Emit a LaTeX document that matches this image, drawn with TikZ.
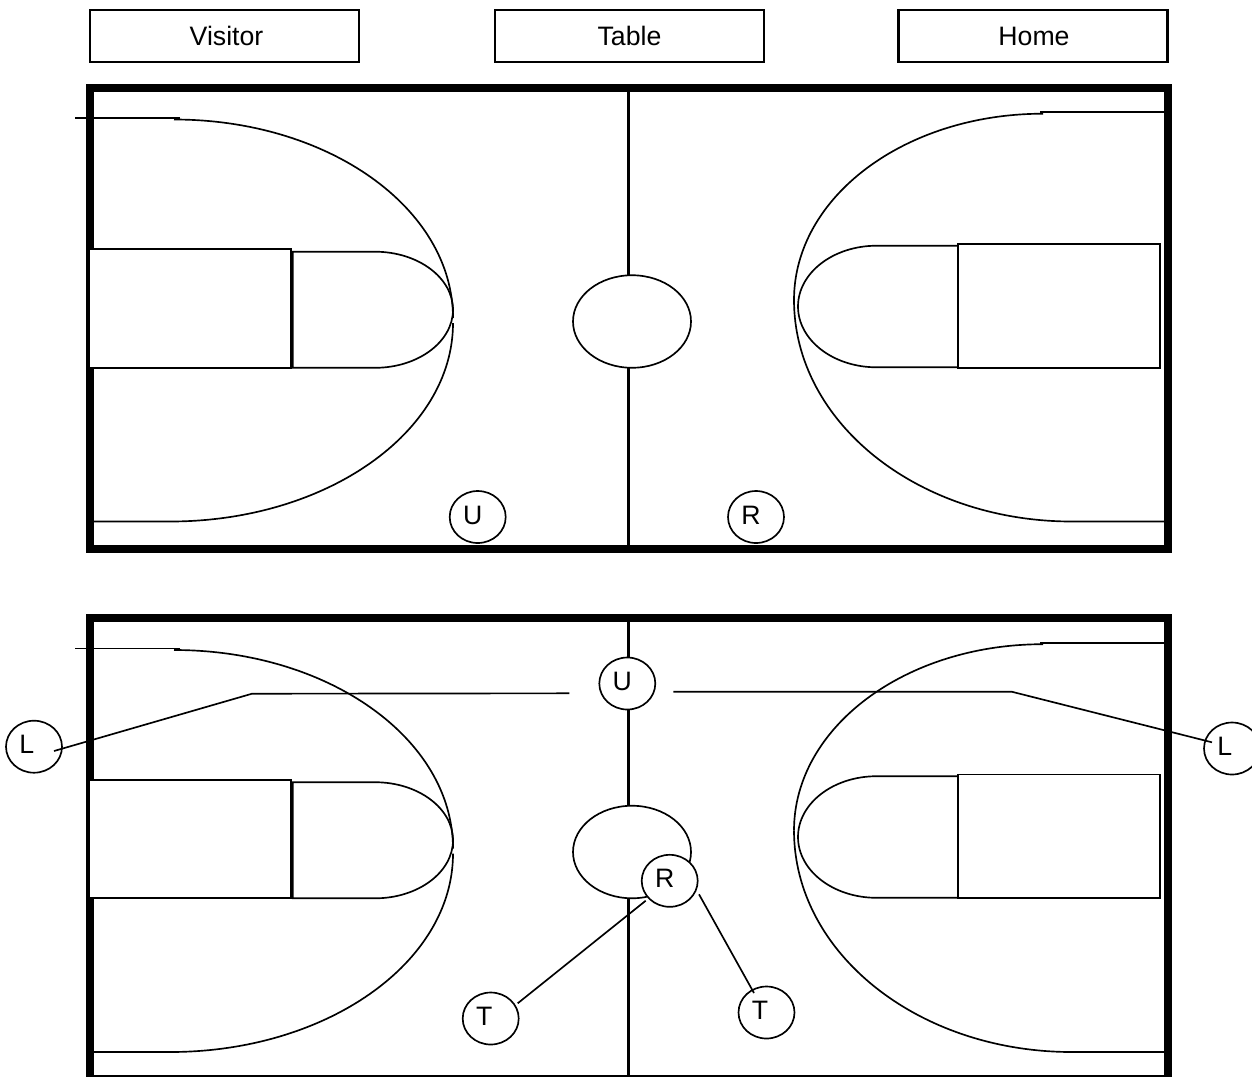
\documentclass[tikz,border=0pt]{standalone}
\usepackage{fontspec}
\setmainfont{Liberation Sans}
\usetikzlibrary{shapes.geometric}
\newcommand\courtlbl[1]{\raisebox{3pt}{\kern-7.5pt\makebox[.722em][l]{#1}}}
\newcommand\courtlines{%
  % left half
  \draw[thinline] (75,118) -- (180,118);
  \draw[thinline] (174,119.5) .. controls (328,119.5) and (453,208) .. (453,318);
  \draw[thinline] (453,323) .. controls (453,432.5) and (326,521.5) .. (170,521.5) -- (94,521.5);
  \draw[thinline, fill=white] (89.5,249.3) rectangle (290.7,367.8);
  \draw[thinline] (375,251.7) -- (292.7,251.7) -- (292.7,367.8) -- (375,367.8)
     .. controls (418,367.8) and (453,341.8) .. (453,309.7)
     .. controls (453,277.7) and (418,251.7) .. (375,251.7);
  % right half
  \draw[thinline] (1164,112.3) -- (1040,112.3);
  \draw[thinline] (1043,113.7) .. controls (905,113.7) and (794,197) .. (794,300);
  \draw[thinline] (794,300) .. controls (794,422.5) and (918,521.5) .. (1072,521.5) -- (1164,521.5);
  \draw[thinline, fill=white] (958.3,244) rectangle (1160,367.7);
  \draw[thinline] (958.3,245.7) -- (876.7,245.7)
     .. controls (833,245.7) and (798,273) .. (798,306.5)
     .. controls (798,340) and (833,367.3) .. (876.7,367.3) -- (958.3,367.3);
}
\tikzset{
  x=.75pt, y=-.75pt,
  thinline/.style={line width=1.25pt, black},
  frame/.style={line width=6pt, black, line join=miter},
  midline/.style={line width=2.25pt, black},
  centre/.style={line width=1.25pt, black, fill=white},
  headbox/.style={draw, line width=1.9pt, fill=white, minimum width=202pt, minimum height=39pt,
     inner sep=0pt, text height=14.3pt, text depth=0pt, font=\fontsize{20}{24}\selectfont},
  player/.style={draw, ellipse, line width=1.25pt, fill=white, minimum width=42pt, minimum height=39pt,
     inner sep=0pt, font=\fontsize{20}{24}\selectfont},
  link/.style={line width=1.25pt, black}
}
\begin{document}
\begin{tikzpicture}
\useasboundingbox (0,0) rectangle (1252,1076);
\clip (0,0) rectangle (1252,1076);

% header boxes
\node[headbox] (visitor) at (224.5,36) {\kern3pt Visitor};
\node[headbox] (table)   at (629.5,36) {Table};
\node[headbox] (home)    at (1033,36)  {\kern1.5pt Home};

% upper court
\draw[frame] (90,88) rectangle (1168,549);
\draw[midline] (628.5,88) -- (628.5,549);
\courtlines
\draw[centre] (632,321.5) ellipse [x radius=44.25pt, y radius=34.7pt];

% lower court
\draw[frame] (90,618) rectangle (1168,1079);
\draw[midline] (628.5,618) -- (628.5,1079);
\begin{scope}[shift={(0,530.5)}]
\courtlines
\draw[centre] (632,321.5) ellipse [x radius=44.25pt, y radius=34.7pt];
\end{scope}

% officials, upper court
\node[player] (u1) at (477.7,517) {\courtlbl{U}};
\node[player] (r1) at (756,517)   {\courtlbl{R}};

% officials, lower court
\node[player] (u2) at (627.3,683.5) {\courtlbl{U}};
\node[player] (r2) at (669.7,880.8) {\courtlbl{R}};
\node[player] (l1) at (34,746.7)    {\courtlbl{L}};
\node[player] (l2) at (1232,748.5)  {\courtlbl{L}};
\node[player] (t1) at (490.7,1018.5) {\courtlbl{T}};
\node[player] (t2) at (766.5,1012.5) {\courtlbl{T}};

% connectors
\coordinate (bendl) at (252,693.7);
\coordinate (bendr) at (1011.7,691.7);
\draw[link] ([shift={(20,4.3)}]l1.center) -- (bendl) -- ([shift={(-58,9.8)}]u2.center);
\draw[link] ([shift={(46,8.2)}]u2.center) -- (bendr) -- ([shift={(-20,-6.2)}]l2.center);
\draw[link] ([shift={(27,-15.2)}]t1.center) -- ([shift={(-24,19.9)}]r2.center);
\draw[link] ([shift={(-12.5,-19.5)}]t2.center) -- ([shift={(29.3,13.5)}]r2.center);
\end{tikzpicture}
\end{document}
